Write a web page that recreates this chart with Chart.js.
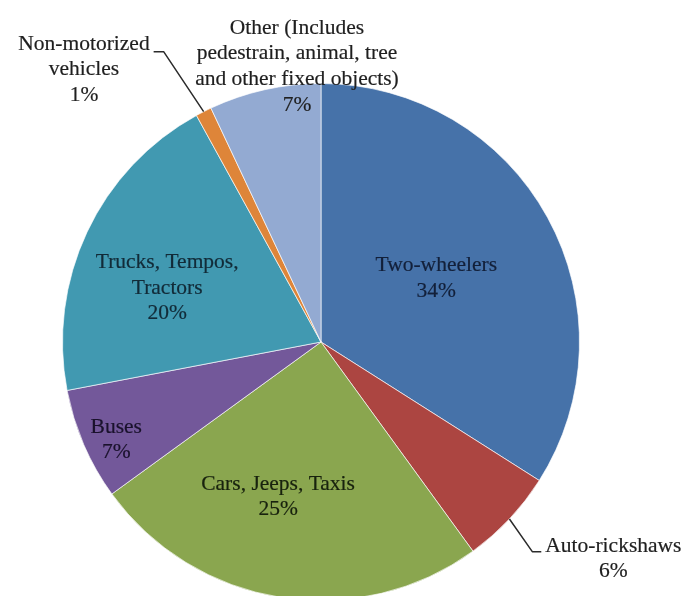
<!DOCTYPE html>
<html>
<head>
<meta charset="utf-8">
<title>Road accident victims by vehicle type</title>
<script src="https://cdn.jsdelivr.net/npm/chart.js@4/dist/chart.umd.min.js"></script>
<style>
    html, body { margin: 0; padding: 0; background: #fff; overflow: hidden; }
    #wrap { position: relative; width: 698px; height: 640px; }
</style>
</head>
<body>
<div id="wrap"><canvas id="vehiclePie"></canvas></div>
<script>
// ==========================================
// Données du graphique
// ==========================================
const categories = [
    'Two-wheelers',
    'Auto-rickshaws',
    'Cars, Jeeps, Taxis',
    'Buses',
    'Trucks, Tempos, Tractors',
    'Non-motorized vehicles',
    'Other (Includes pedestrain, animal, tree and other fixed objects)'
];
const shares = [34, 6, 25, 7, 20, 1, 7];

// Découpage des étiquettes en lignes (le pourcentage est ajouté depuis shares)
const labelLines = [
    ['Two-wheelers'],
    ['Auto-rickshaws'],
    ['Cars, Jeeps, Taxis'],
    ['Buses'],
    ['Trucks, Tempos,', 'Tractors'],
    ['Non-motorized', 'vehicles'],
    ['Other (Includes', 'pedestrain, animal, tree', 'and other fixed objects)']
];

// Styles
const sliceColors = ['#4672A9', '#AC4541', '#8AA64F', '#73589A', '#4199B1', '#DE8539', '#93AAD2'];
const labelInk = ['#13203a', '#1f1f1f', '#18220e', '#1a122c', '#122b38', '#1f1f1f', '#1f1f1f'];

// Placement des étiquettes : centre x / première ligne de base, en rayons depuis le centre
const labelSpots = [
    { dx: 0.446, dy: -0.274 },
    { dx: 1.131, dy: 0.811, leader: 'left' },
    { dx: -0.166, dy: 0.571 },
    { dx: -0.792, dy: 0.351 },
    { dx: -0.595, dy: -0.286 },
    { dx: -0.917, dy: -1.131, leader: 'right' },
    { dx: -0.093, dy: -1.193 }
];

const FONT = '21.5px "Liberation Serif"';
const LINE_H = 25.7;

// Plugin : étiquettes de données et lignes de rappel
const pieLabels = {
    id: 'pieLabels',
    afterDatasetsDraw(chart) {
        const ctx = chart.ctx;
        const arcs = chart.getDatasetMeta(0).data;
        ctx.save();
        ctx.font = FONT + ', "Times New Roman", serif';
        ctx.textAlign = 'center';
        ctx.textBaseline = 'alphabetic';
        ctx.lineJoin = 'round';

        arcs.forEach((arc, i) => {
            const { x, y, outerRadius, startAngle, endAngle } = arc.getProps(['x', 'y', 'outerRadius', 'startAngle', 'endAngle'], true);
            const spot = labelSpots[i];
            const cx = x + spot.dx * outerRadius;
            const by = y + spot.dy * outerRadius;
            const lines = labelLines[i].concat([shares[i] + '%']);

            // texte à peine épaissi
            ctx.fillStyle = labelInk[i];
            ctx.strokeStyle = labelInk[i];
            ctx.lineWidth = 0.2;
            lines.forEach((txt, k) => {
                ctx.fillText(txt, cx, by + k * LINE_H);
                ctx.strokeText(txt, cx, by + k * LINE_H);
            });

            if (spot.leader) {
                const mid = (startAngle + endAngle) / 2;
                const ex = x + Math.cos(mid) * outerRadius;
                const ey = y + Math.sin(mid) * outerRadius;
                const half = ctx.measureText(lines[0]).width / 2;
                ctx.strokeStyle = '#2b2b2b';
                ctx.lineWidth = 1.5;
                ctx.beginPath();
                if (spot.leader === 'left') {
                    const tx = cx - half;
                    ctx.moveTo(ex, ey);
                    ctx.lineTo(tx - 13, by);
                    ctx.lineTo(tx - 4, by);
                } else {
                    const tx = cx + half;
                    ctx.moveTo(tx + 4, by + 2);
                    ctx.lineTo(tx + 14, by + 2);
                    ctx.lineTo(ex, ey);
                }
                ctx.stroke();
            }
        });
        ctx.restore();
    }
};

function buildChart() {
    new Chart(document.getElementById('vehiclePie'), {
        type: 'pie',
        data: {
            labels: categories,
            datasets: [{
                data: shares,
                backgroundColor: sliceColors,
                borderColor: 'rgba(255,255,255,0.65)',
                borderWidth: 1,
                hoverOffset: 0
            }]
        },
        options: {
            responsive: true,
            maintainAspectRatio: false,
            animation: false,
            layout: { padding: { left: 62, right: 118, top: 83, bottom: 39 } },
            plugins: {
                legend: { display: false },
                tooltip: { enabled: false }
            }
        },
        plugins: [pieLabels]
    });
}

// Attendre la police avant de dessiner le canvas
if (document.fonts && document.fonts.load) {
    document.fonts.load(FONT).then(buildChart, buildChart);
} else {
    buildChart();
}
</script>
</body>
</html>
